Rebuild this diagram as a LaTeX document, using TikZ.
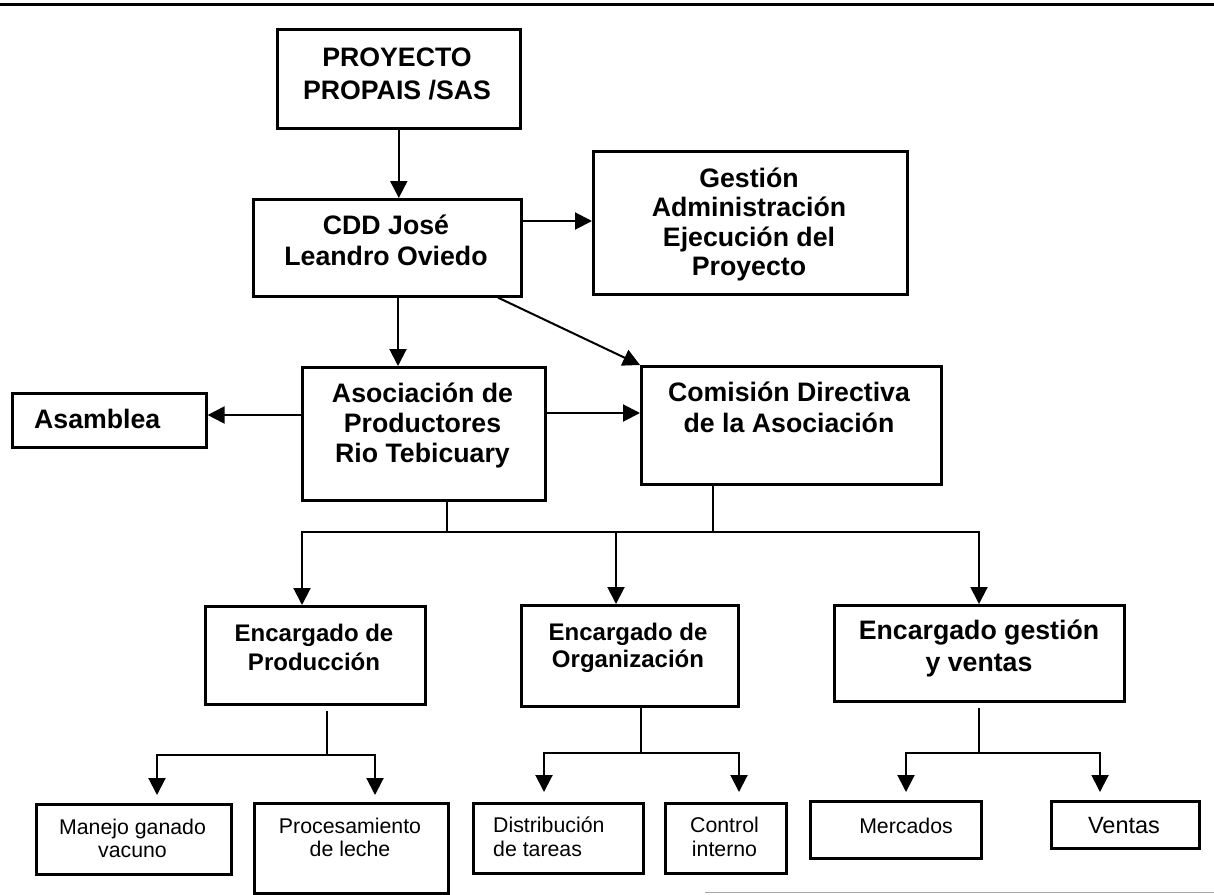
\documentclass[tikz,border=0pt]{standalone}
\usepackage{fontspec}
\setmainfont{Liberation Sans}
\usetikzlibrary{arrows.meta,calc}
\begin{document}
\begin{tikzpicture}[x=1pt,y=-1pt,
  box/.style={draw, line width=2.6pt, inner sep=0pt, anchor=north west},
  conn/.style={line width=2pt},
  arr/.style={conn, -{Triangle[length=17pt,width=17pt]}},
  hb/.style={font=\fontsize{26.7}{30}\selectfont\bfseries, inner sep=0pt, anchor=base},
  mb/.style={font=\fontsize{24}{28}\selectfont\bfseries, inner sep=0pt, anchor=base},
  sr/.style={font=\fontsize{21.3}{25}\selectfont, inner sep=0pt, anchor=base},
  vr/.style={font=\fontsize{23.5}{27}\selectfont, inner sep=0pt, anchor=base}]
\useasboundingbox (0,0) rectangle (1214,894);
% rules
\draw[line width=3pt] (0,4.5) -- (1214,4.5);
\draw[line width=1.5pt, black!35] (705,892.5) -- (1214,892.5);
% boxes
\node[box, minimum width=243pt, minimum height=99pt] (proy) at (276,28) {};
\node[box, minimum width=268pt, minimum height=97pt] (cdd) at (252,198) {};
\node[box, minimum width=314pt, minimum height=143pt] (gest) at (592,150) {};
\node[box, minimum width=243pt, minimum height=133pt] (asoc) at (301,366) {};
\node[box, minimum width=300pt, minimum height=118pt] (comi) at (640,365) {};
\node[box, minimum width=194pt, minimum height=54pt] (asam) at (11,392) {};
\node[box, minimum width=220pt, minimum height=98pt] (prod) at (204,605) {};
\node[box, minimum width=217pt, minimum height=101pt] (org) at (520,604) {};
\node[box, minimum width=290pt, minimum height=96pt] (vent) at (833,604) {};
\node[box, minimum width=195pt, minimum height=70pt] (manejo) at (35,803) {};
\node[box, minimum width=194pt, minimum height=90pt] (proc) at (253,802) {};
\node[box, minimum width=170pt, minimum height=70pt] (dist) at (472,802) {};
\node[box, minimum width=121pt, minimum height=70pt] (ctrl) at (664,802) {};
\node[box, minimum width=171pt, minimum height=57pt] (merc) at (809,800) {};
\node[box, minimum width=148pt, minimum height=47pt] (ventas) at (1050,800) {};
% texts
\node[hb] (tproy1) at (397,66.5) {PROYECTO};
\node[hb] (tproy2) at (397,99.5) {PROPAIS /SAS};
\node[hb] (tcdd1) at (386,234) {CDD José};
\node[hb] (tcdd2) at (386,265) {Leandro Oviedo};
\node[hb] (tgest1) at (749,187) {Gestión};
\node[hb] (tgest2) at (749,216.5) {Administración};
\node[hb] (tgest3) at (749,246) {Ejecución del};
\node[hb] (tgest4) at (749,275) {Proyecto};
\node[hb] (tasoc1) at (422.5,402) {Asociación de};
\node[hb] (tasoc2) at (422.5,432) {Productores};
\node[hb] (tasoc3) at (422.5,462.5) {Rio Tebicuary};
\node[hb] (tcomi1) at (789,401) {Comisión Directiva};
\node[hb] (tcomi2) at (789,432) {de la Asociación};
\node[hb, anchor=base west] (tasam) at (34,428) {Asamblea};
\node[mb] (tprod1) at (314,641.5) {Encargado de};
\node[mb] (tprod2) at (314,670.5) {Producción};
\node[mb] (torg1) at (628,640) {Encargado de};
\node[mb] (torg2) at (628,667.5) {Organización};
\node[hb] (tvent1) at (979,639) {Encargado gestión};
\node[hb] (tvent2) at (979,671) {y ventas};
\node[sr] (tman1) at (132.5,834.5) {Manejo ganado};
\node[sr] (tman2) at (132.5,857) {vacuno};
\node[sr] (tproc1) at (350,833) {Procesamiento};
\node[sr] (tproc2) at (350,856) {de leche};
\node[sr, anchor=base west] (tdist1) at (493,832) {Distribución};
\node[sr, anchor=base west] (tdist2) at (493,856) {de tareas};
\node[sr] (tctrl1) at (724.5,832) {Control};
\node[sr] (tctrl2) at (724.5,856) {interno};
\node[sr] (tmerc) at (906,833) {Mercados};
\node[vr] (tventas) at (1124,833) {Ventas};
% helper coordinates
\coordinate (g0) at (0,221);
\coordinate (k1) at (398,0);
\coordinate (d0) at (498,0);
\coordinate (a1) at (0,415);
\coordinate (a2) at (0,413);
\coordinate (b1) at (447,532);
\coordinate (b2) at (713,532);
\coordinate (hl) at (302,532);
\coordinate (hm) at (616,532);
\coordinate (hr) at (979,532);
\coordinate (p0) at (327,755);
\coordinate (pl) at (157,755);
\coordinate (pr) at (375,755);
\coordinate (o0) at (641,753);
\coordinate (ol) at (544,753);
\coordinate (or) at (739,753);
\coordinate (v0) at (979,753);
\coordinate (vl) at (906,753);
\coordinate (vr) at (1100,753);
% connectors
\draw[arr] (proy.south) -- (proy.south |- cdd.north);
\draw[arr] (cdd.east |- g0) -- (gest.west |- g0);
\draw[arr] (cdd.south -| k1) -- (asoc.north -| k1);
\draw[arr] (cdd.south -| d0) -- (comi.north west);
\draw[arr] (asoc.west |- a1) -- (asam.east |- a1);
\draw[arr] (asoc.east |- a2) -- (comi.west |- a2);
\draw[conn] (asoc.south -| b1) -- (b1);
\draw[conn] (comi.south -| b2) -- (b2);
\draw[conn] (b1) -- (b2);
\draw[arr] (b1) -| (hl |- prod.north);
\draw[arr] (b2) -| (hr |- vent.north);
\draw[arr] (hm) -- (hm |- org.north);
% production branch
\draw[conn, shorten <=5pt] (prod.south -| p0) -- (p0);
\draw[arr, shorten >=8pt] (p0) -| (pl |- manejo.north);
\draw[arr, shorten >=7pt] (p0) -| (pr |- proc.north);
% organisation branch
\draw[conn] (org.south -| o0) -- (o0);
\draw[arr, shorten >=10pt] (o0) -| (ol |- dist.north);
\draw[arr, shorten >=10pt] (o0) -| (or |- ctrl.north);
% sales branch
\draw[conn, shorten <=5pt] (vent.south -| v0) -- (v0);
\draw[arr, shorten >=8pt] (v0) -| (vl |- merc.north);
\draw[arr, shorten >=8pt] (v0) -| (vr |- ventas.north);
\end{tikzpicture}
\end{document}
